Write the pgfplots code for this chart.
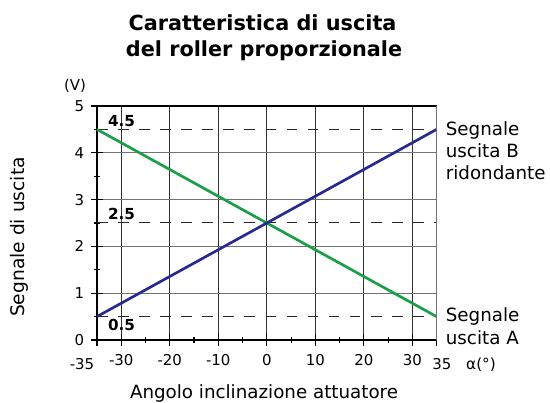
\documentclass[border=0pt]{standalone}
\usepackage{fontspec}
\setmainfont{DejaVu Sans}
\usepackage{pgfplots}
\pgfplotsset{compat=1.18}
\definecolor{lblue}{RGB}{40,40,145}
\definecolor{lgreen}{RGB}{25,160,70}
\begin{document}
\begin{tikzpicture}
\path[use as bounding box] (0,0) rectangle (412.5pt,302.25pt);
\begin{axis}[
  at={(72.75pt,47.25pt)}, anchor=south west,
  scale only axis, width=254.7pt, height=175.5pt,
  xmin=-35, xmax=35, ymin=0, ymax=5,
  axis x line*=bottom, axis y line*=left,
  axis line style={black, line width=0.9pt, -},
  xtick={-35,-30,-20,-10,0,10,20,30,35},
  xticklabels={,-30,-20,-10,0,10,20,30,},
  minor xtick={-25,-15,-5,5,15,25},
  ytick={0,1,2,3,4,5},
  yticklabels={0,1,2,3,4,5},
  minor ytick={0.5,1.5,2.5,3.5,4.5},
  tick align=center,
  major tick length=9pt, minor tick length=4pt,
  every tick/.style={black, line width=0.8pt},
  tick label style={font=\fontsize{11.2}{13}\selectfont},
  xticklabel style={yshift=-3pt},
  yticklabel style={xshift=-1.6pt},
  xmajorgrids, ymajorgrids,
  x grid style={black!80, line width=0.8pt},
  y grid style={black!55, line width=1pt},
  clip=false,
]
\addplot[black!85, line width=0.75pt, dash pattern=on 8pt off 7.8pt] coordinates {(-35,4.5) (35,4.5)};
\addplot[black!85, line width=0.75pt, dash pattern=on 8pt off 7.8pt] coordinates {(-35,2.5) (35,2.5)};
\addplot[black!85, line width=0.75pt, dash pattern=on 8pt off 7.8pt] coordinates {(-35,0.5) (35,0.5)};
\addplot[lgreen, line width=2pt] coordinates {(-35,4.5) (35,0.5)};
\addplot[lblue, line width=2pt] coordinates {(-35,0.5) (35,4.5)};
\draw[black, line width=1.2pt] (axis cs:-35,5) -- (axis cs:35,5);
\draw[black!55, line width=1pt] (axis cs:35,0) -- (axis cs:35,5);
% edge tick labels
\node[anchor=base, font=\fontsize{11.2}{13}\selectfont, inner sep=0pt] at (axis cs:-38.1,-0.635) {-35};
\node[anchor=base, font=\fontsize{11.2}{13}\selectfont, inner sep=0pt] at (axis cs:36.1,-0.635) {35};
% value labels
\node[anchor=base, font=\fontsize{11.4}{13}\selectfont\bfseries, inner sep=0pt] at (axis cs:-29.95,4.56) {4.5};
\node[anchor=base, font=\fontsize{11.4}{13}\selectfont\bfseries, inner sep=0pt] at (axis cs:-29.95,2.58) {2.5};
\node[anchor=base, font=\fontsize{11.4}{13}\selectfont\bfseries, inner sep=0pt] at (axis cs:-29.95,0.21) {0.5};
% right labels
\node[anchor=base west, font=\fontsize{13.7}{16}\selectfont, inner sep=0pt] at (axis cs:36.86,4.38) {Segnale};
\node[anchor=base west, font=\fontsize{13.7}{16}\selectfont, inner sep=0pt] at (axis cs:36.86,3.895) {uscita B};
\node[anchor=base west, font=\fontsize{13.7}{16}\selectfont, inner sep=0pt] at (axis cs:36.86,3.43) {ridondante};
\node[anchor=base west, font=\fontsize{13.7}{16}\selectfont, inner sep=0pt] at (axis cs:36.86,0.39) {Segnale};
\node[anchor=base west, font=\fontsize{13.7}{16}\selectfont, inner sep=0pt] at (axis cs:36.86,-0.09) {uscita A};
% units
\node[anchor=base, font=\fontsize{11.5}{13}\selectfont, inner sep=0pt] at (axis cs:44.16,-0.635) {α(°)};
\node[anchor=base, font=\fontsize{11.2}{13}\selectfont, inner sep=0pt] at (axis cs:-39.53,5.34) {(V)};
% axis labels
\node[anchor=base, font=\fontsize{13.7}{16}\selectfont, inner sep=0pt] at (axis cs:-0.57,-1.24) {Angolo inclinazione attuatore};
\node[rotate=90, anchor=center, font=\fontsize{14}{16}\selectfont, inner sep=0pt] at (axis cs:-51.08,2.2) {Segnale di uscita};
% title
\node[anchor=base, font=\fontsize{15.6}{18}\selectfont\bfseries, inner sep=0pt] at (axis cs:-0.88,6.61) {Caratteristica di uscita};
\node[anchor=base, font=\fontsize{15.6}{18}\selectfont\bfseries, inner sep=0pt] at (axis cs:-0.57,6.05) {del roller proporzionale};
\end{axis}
\end{tikzpicture}
\end{document}
